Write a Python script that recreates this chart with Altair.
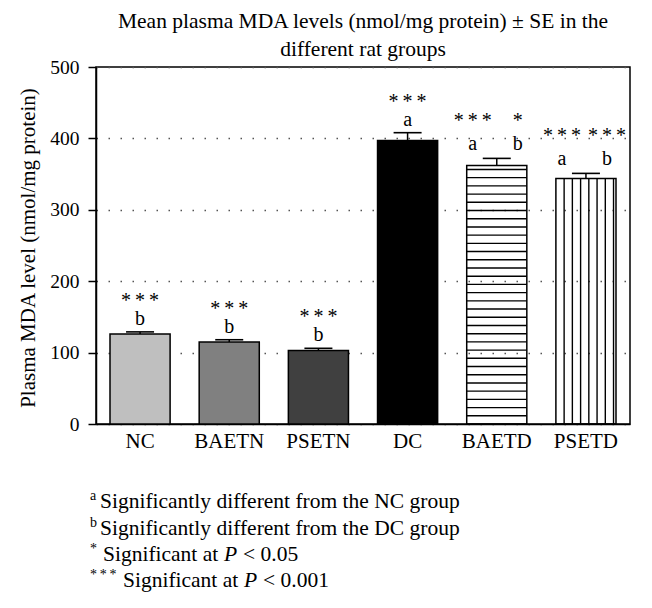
import altair as alt
import pandas as pd
import numpy as np

# ---------------- data ----------------
groups = ["NC", "BAETN", "PSETN", "DC", "BAETD", "PSETD"]
means = [126, 115, 103, 397, 362, 344]
se = [3, 3, 3, 11, 10, 7]

ann_group = ["NC", "NC", "BAETN", "BAETN", "PSETN", "PSETN", "DC", "DC",
             "BAETD", "BAETD", "BAETD", "BAETD", "PSETD", "PSETD", "PSETD", "PSETD"]
ann_text = ["***", "b", "***", "b", "***", "b", "***", "a",
            "***", "a", "*", "b", "***", "a", "***", "b"]
ann_slot = ["c", "c", "c", "c", "c", "c", "c", "c",
            "l", "l", "r", "r", "l", "l", "r", "r"]
ann_row = ["sig", "letter", "sig", "letter", "sig", "letter", "sig", "letter",
           "sig", "letter", "sig", "letter", "sig", "letter", "sig", "letter"]

foot_mark = ["a", "b", "*", "***"]
foot_text = ["Significantly different from the NC group",
             "Significantly different from the DC group",
             "Significant at", "Significant at"]
foot_p = ["", "", "P", "P"]
foot_rest = ["", "", "< 0.05", "< 0.001"]

y_ticks = [0, 100, 200, 300, 400, 500]
title_lines = ["Mean plasma MDA levels (nmol/mg protein) \u00b1 SE in the",
               "different rat groups"]
y_title = "Plasma MDA level (nmol/mg protein)"

# ---------------- styles ----------------
bar_colors = ["#bfbfbf", "#808080", "#404040", "#000000", "transparent", "transparent"]
FONT = "Liberation Serif"
FS_TICK = 19.5
FS_LAB = 21
FS_TITLE = 21.5
FS_FOOT = 21.5
FS_ANN = 20
W, H = 534, 357
BANDW = 60

df = pd.DataFrame({"group": groups, "mean": means, "se": se})
df["upper"] = df["mean"] + df["se"]
df["zero"] = 0

xscale = alt.Scale(domain=groups, paddingInner=0.326, paddingOuter=0.157)
yscale = alt.Scale(domain=[0, 500], nice=False, zero=True)

x_axis = alt.Axis(title=None, ticks=False, tickSize=0, labelAngle=0, labelFont=FONT,
                  labelFontSize=FS_LAB, labelColor="black", labelPadding=6,
                  domainColor="black", domainWidth=1.5, grid=False)
y_axis = alt.Axis(values=y_ticks, grid=True, gridDash=[1.5, 10.5], gridColor="#555555",
                  gridWidth=1.5, tickSize=8, tickWidth=1.5, tickColor="black",
                  domainColor="black", domainWidth=1.5, labelFont=FONT, labelFontSize=FS_TICK,
                  labelColor="black", labelPadding=9, title=y_title, titleFont=FONT,
                  titleFontSize=FS_LAB, titleFontWeight="normal", titleColor="black",
                  titleX=-68, titleY=H / 2 + 2, titleAngle=-90, titleAlign="center",
                  titleBaseline="middle")


def xenc(**kw):
    return alt.X("group:N", scale=xscale, sort=groups, **kw)


bars = alt.Chart(df).mark_bar(stroke="black", strokeWidth=1.5).encode(
    x=alt.X("group:N", scale=xscale, sort=groups, axis=x_axis),
    y=alt.Y("mean:Q", scale=yscale, axis=y_axis),
    fill=alt.Fill("group:N", scale=alt.Scale(domain=groups, range=bar_colors), legend=None),
)

# horizontal hatch (BAETD)
HSTEP = 11.5
hz_rows = [(g, h) for g, m in zip(groups, means) if g == "BAETD"
           for h in np.arange(HSTEP, m - 3, HSTEP)]
hatch_h = alt.Chart(pd.DataFrame(hz_rows, columns=["group", "h"])).mark_tick(
    orient="horizontal", size=BANDW, thickness=1.4, color="black", opacity=1
).encode(x=xenc(), y=alt.Y("h:Q", scale=yscale))

# vertical hatch (PSETD)
psetd = df[df["group"] == "PSETD"]
VSTEP = 0.137
hatch_v = [
    alt.Chart(psetd).mark_rule(color="black", strokeWidth=1.4).encode(
        x=xenc(bandPosition=round(k * VSTEP, 3)),
        y=alt.Y("zero:Q", scale=yscale), y2="mean:Q")
    for k in range(1, 8)
]

err_stem = alt.Chart(df).mark_rule(color="black", strokeWidth=1.5).encode(
    x=xenc(), y=alt.Y("mean:Q", scale=yscale), y2="upper:Q")
err_cap = alt.Chart(df).mark_tick(orient="horizontal", size=28, thickness=1.6,
                                  color="black", opacity=1).encode(
    x=xenc(), y=alt.Y("upper:Q", scale=yscale))

ann = pd.DataFrame({"group": ann_group, "text": ann_text, "slot": ann_slot, "row": ann_row})
ann = ann.merge(df[["group", "upper"]], on="group")
ann["disp"] = [("\u2009".join(list(t)) if r == "sig" else t) for t, r in zip(ann["text"], ann["row"])]

SLOT_DX = {"c": 0, "l": -24, "r": 21}
ROW_DY = {("c", "letter"): -7, ("c", "sig"): -25,
          ("l", "letter"): -8, ("l", "sig"): -31,
          ("r", "letter"): -8, ("r", "sig"): -31}
texts = []
for (slot, row), dy in ROW_DY.items():
    sub = ann[(ann["slot"] == slot) & (ann["row"] == row)]
    if len(sub) == 0:
        continue
    texts.append(alt.Chart(sub).mark_text(
        font=FONT, fontSize=FS_ANN, color="black", baseline="alphabetic",
        align="center", dx=SLOT_DX[slot], dy=dy
    ).encode(x=xenc(), y=alt.Y("upper:Q", scale=yscale), text="disp:N"))

# footnotes (plot coordinates)
FOOT_X = [4, 4, 7, 27]
FOOT_Y = [441, 468, 494, 520]
P_DX = 121
REST_DX = 140
foot = []
for i in range(len(foot_mark)):
    mark_txt = "\u2009".join(list(foot_mark[i])) if foot_mark[i].startswith("*") else foot_mark[i]
    foot.append(alt.Chart(pd.DataFrame({"t": [mark_txt]})).mark_text(
        font=FONT, fontSize=14, color="black", align="left", baseline="alphabetic"
    ).encode(text="t:N", x=alt.value(-6), y=alt.value(FOOT_Y[i] - 8)))
    foot.append(alt.Chart(pd.DataFrame({"t": [foot_text[i]]})).mark_text(
        font=FONT, fontSize=FS_FOOT, color="black", align="left", baseline="alphabetic"
    ).encode(text="t:N", x=alt.value(FOOT_X[i]), y=alt.value(FOOT_Y[i])))
    if foot_p[i]:
        foot.append(alt.Chart(pd.DataFrame({"t": [foot_p[i]]})).mark_text(
            font=FONT, fontSize=FS_FOOT, fontStyle="italic", color="black", align="left",
            baseline="alphabetic"
        ).encode(text="t:N", x=alt.value(FOOT_X[i] + P_DX), y=alt.value(FOOT_Y[i])))
        foot.append(alt.Chart(pd.DataFrame({"t": [foot_rest[i]]})).mark_text(
            font=FONT, fontSize=FS_FOOT, color="black", align="left", baseline="alphabetic"
        ).encode(text="t:N", x=alt.value(FOOT_X[i] + REST_DX), y=alt.value(FOOT_Y[i])))

chart = alt.layer(bars, hatch_h, *hatch_v, err_stem, err_cap, *texts, *foot).properties(
    width=W, height=H,
    title=alt.TitleParams(text=title_lines, font=FONT, fontSize=FS_TITLE, fontWeight="normal",
                          color="black", lineHeight=28, anchor="middle", offset=-3),
    padding={"left": 88, "top": 59, "right": 14, "bottom": 176},
    autosize=alt.AutoSizeParams(type="none"),
).configure_view(stroke="black", strokeWidth=1.5)

chart.save("out.html", embed_options={"renderer": "svg", "actions": False})
